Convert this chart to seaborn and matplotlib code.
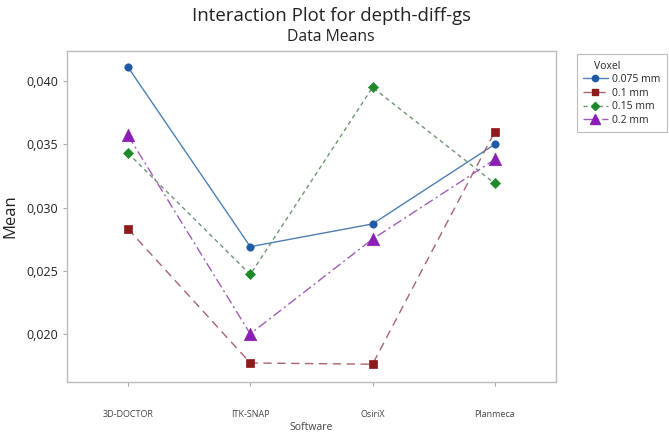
import matplotlib
matplotlib.use("Agg")
import matplotlib.pyplot as plt
from matplotlib.lines import Line2D
import numpy as np
import pandas as pd
import seaborn as sns

# Dados (médias)
software = ["3D-DOCTOR", "ITK-SNAP", "OsiriX", "Planmeca"]
voxels = ["0.075 mm", "0.1 mm", "0.15 mm", "0.2 mm"]
mean_0075 = [0.0411, 0.0269, 0.0287, 0.0350]
mean_01 = [0.0283, 0.0177, 0.0176, 0.0360]
mean_015 = [0.0343, 0.0247, 0.0395, 0.0319]
mean_02 = [0.0357, 0.0200, 0.0275, 0.0338]
y_ticks = [0.020, 0.025, 0.030, 0.035, 0.040]

df = pd.DataFrame({
    "Software": software * 4,
    "Voxel": np.repeat(voxels, len(software)),
    "Mean": mean_0075 + mean_01 + mean_015 + mean_02,
})

# cores: marcador escuro, linha mais clara (estilo Minitab)
marker_colors = {"0.075 mm": "#1F5AA6", "0.1 mm": "#8E1B1B",
                 "0.15 mm": "#1E8A2A", "0.2 mm": "#8B1FB5"}
line_colors = {"0.075 mm": "#4F7FB5", "0.1 mm": "#A8646E",
               "0.15 mm": "#6E9474", "0.2 mm": "#A05DB8"}
dashes = {"0.075 mm": "", "0.1 mm": (6, 4), "0.15 mm": (3, 2.5),
          "0.2 mm": (7, 2.5, 1.5, 2.5)}
markers = {"0.075 mm": "o", "0.1 mm": "s", "0.15 mm": "D", "0.2 mm": "^"}
sizes = {"0.075 mm": 28, "0.1 mm": 38, "0.15 mm": 26, "0.2 mm": 80}

sns.set_style("white")
plt.rcParams["font.family"] = ["Open Sans", "DejaVu Sans"]

fig = plt.figure(figsize=(6.69, 4.34), dpi=100)
ax = fig.add_axes([0.100, 0.120, 0.731, 0.763])

sns.lineplot(data=df, x="Software", y="Mean", hue="Voxel", style="Voxel",
             palette=line_colors, dashes=dashes, sort=False, linewidth=1.0,
             legend=False, ax=ax)
for v in voxels:
    sub = df[df["Voxel"] == v]
    sns.scatterplot(data=sub, x="Software", y="Mean", color=marker_colors[v],
                    marker=markers[v], s=sizes[v], edgecolor=marker_colors[v],
                    linewidth=0.5, legend=False, ax=ax, zorder=5)

ax.set_xlim(-0.5, 3.5)
ax.set_ylim(0.0162, 0.0424)
ax.set_yticks(y_ticks)
ax.set_yticklabels([f"{t:.3f}".replace(".", ",") for t in y_ticks],
                   fontsize=9, color="#222222")
ax.tick_params(axis="x", labelsize=6.5, labelcolor="#444444", pad=17)
ax.tick_params(axis="both", direction="out", length=3, color="#aaaaaa",
               width=0.8, bottom=True, left=True)
ax.set_xlabel("Software", fontsize=7.5, color="#444444", va="center")
ax.xaxis.set_label_coords(0.5, -0.139)
ax.set_ylabel("Mean", fontsize=12, color="#222222", va="center")
ax.yaxis.set_label_coords(-0.115, 0.5)
for s in ax.spines.values():
    s.set_color("#bbbbbb")
    s.set_linewidth(1.0)

fig.text(0.495, 0.963, "Interaction Plot for depth-diff-gs", ha="center",
         va="center", fontsize=13.4, color="#222222")
fig.text(0.495, 0.915, "Data Means", ha="center", va="center",
         fontsize=11.3, color="#222222")

handles = [Line2D([0], [0], color=line_colors[v], linewidth=1.0,
                  dashes=dashes[v] if dashes[v] else (None, None),
                  marker=markers[v], markerfacecolor=marker_colors[v],
                  markeredgecolor=marker_colors[v],
                  markersize=7 if v == "0.2 mm" else 4.5)
           for v in voxels]
leg = fig.legend(handles=handles, labels=voxels, title="    Voxel",
                 loc="upper left", bbox_to_anchor=(0.854, 0.887),
                 fontsize=7.5, title_fontsize=7.5, frameon=True, fancybox=False,
                 handlelength=2.4, handletextpad=0.4, labelspacing=0.25,
                 borderpad=0.6, alignment="left")
leg.get_frame().set_edgecolor("#aaaaaa")
leg.get_frame().set_linewidth(0.8)

fig.savefig("out.png", dpi=100, facecolor="white")
